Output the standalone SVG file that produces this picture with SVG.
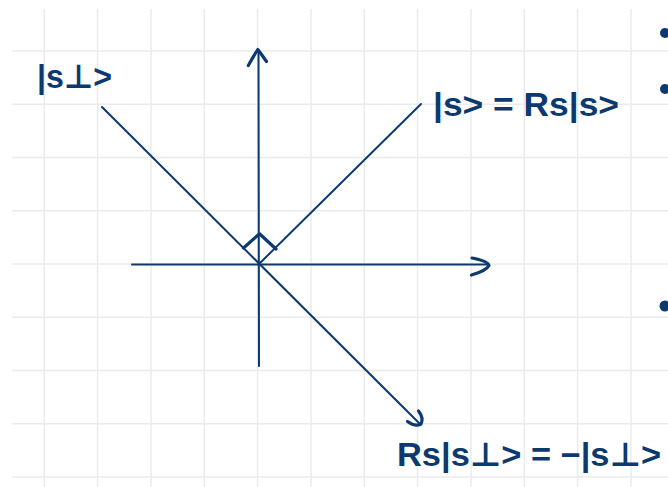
<svg xmlns="http://www.w3.org/2000/svg" width="668" height="487" viewBox="0 0 668 487">
<style>
.grid line{stroke:#ebebeb;stroke-width:1.5}
.ink{stroke:#0d3a6e;fill:none;stroke-linecap:round;stroke-linejoin:round}
.ln{stroke-width:2}
.hd{stroke-width:3.2}
.lbl{font-family:"Liberation Sans","DejaVu Sans",sans-serif;font-weight:bold;fill:#0d3a6e;font-size:33px}
</style>
<rect width="668" height="487" fill="#ffffff"/>
<g class="grid">
<line x1="44.3" y1="9" x2="44.3" y2="487"/>
<line x1="97.6" y1="9" x2="97.6" y2="487"/>
<line x1="151" y1="9" x2="151" y2="487"/>
<line x1="204.3" y1="9" x2="204.3" y2="487"/>
<line x1="257.6" y1="9" x2="257.6" y2="487"/>
<line x1="311" y1="9" x2="311" y2="487"/>
<line x1="364.3" y1="9" x2="364.3" y2="487"/>
<line x1="417.6" y1="9" x2="417.6" y2="487"/>
<line x1="471" y1="9" x2="471" y2="487"/>
<line x1="524.3" y1="9" x2="524.3" y2="487"/>
<line x1="577.6" y1="9" x2="577.6" y2="487"/>
<line x1="631" y1="9" x2="631" y2="487"/>
<line x1="12" y1="51" x2="668" y2="51"/>
<line x1="12" y1="104.3" x2="668" y2="104.3"/>
<line x1="12" y1="157.5" x2="668" y2="157.5"/>
<line x1="12" y1="210.8" x2="668" y2="210.8"/>
<line x1="12" y1="264" x2="668" y2="264"/>
<line x1="12" y1="317.3" x2="668" y2="317.3"/>
<line x1="12" y1="370.5" x2="668" y2="370.5"/>
<line x1="12" y1="423.8" x2="668" y2="423.8"/>
<line x1="12" y1="477" x2="668" y2="477"/>
</g>
<g id="connectors" class="ink">
<g id="y-axis">
<line class="ln" x1="258.5" y1="50" x2="259" y2="366"/>
<path class="hd" d="M248.3,65.5 Q253,57 257.8,49.5 Q262,55 266.5,61.5"/>
</g>
<g id="x-axis">
<line class="ln" x1="132" y1="264.5" x2="488" y2="264.5"/>
<path class="hd" d="M472,258 Q488,261 489,265.5 Q486,271 471.5,275"/>
</g>
<g id="vec-s">
<line class="ln" x1="258.5" y1="264.5" x2="421" y2="104"/>
</g>
<g id="vec-sperp">
<line class="ln" x1="102" y1="107" x2="420" y2="424"/>
<path class="hd" d="M418.5,411 Q424,418 421,424 Q415,427 407.5,421.5"/>
</g>
<g id="right-angle">
<path class="hd" d="M243.5,248 L259.5,233.8 L276,249"/>
</g>
</g>
<g id="label-sperp"><text class="lbl" x="37" y="88" font-size="35" textLength="75" lengthAdjust="spacingAndGlyphs">|s⊥&gt;</text></g>
<g id="label-s"><text class="lbl" x="433" y="116" textLength="186" lengthAdjust="spacingAndGlyphs">|s&gt; = Rs|s&gt;</text></g>
<g id="label-rs"><text class="lbl" x="397" y="466" font-size="34" textLength="264" lengthAdjust="spacingAndGlyphs">Rs|s⊥&gt; = −|s⊥&gt;</text></g>
<g id="dots" fill="#0d3a6e">
<circle cx="665" cy="33" r="5"/>
<circle cx="665" cy="89" r="5"/>
<circle cx="665" cy="306" r="5.5"/>
</g>
</svg>
